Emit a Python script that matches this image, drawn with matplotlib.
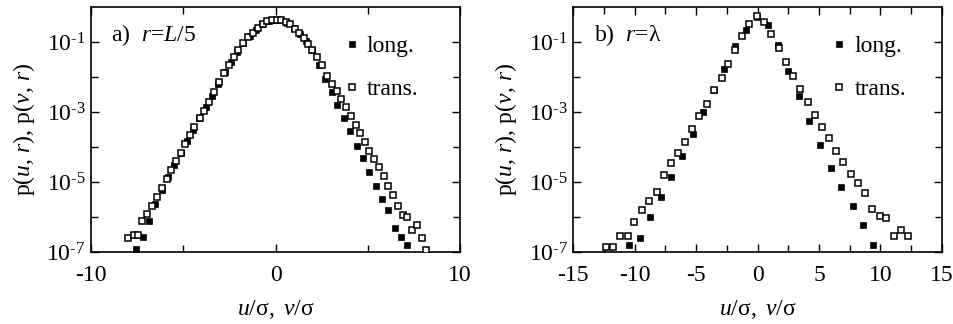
import numpy as np
import matplotlib.pyplot as plt
from matplotlib.ticker import FixedLocator, MultipleLocator, FuncFormatter

plt.rcParams["font.family"] = ["Liberation Serif", "DejaVu Serif"]
plt.rcParams["mathtext.fontset"] = "custom"
plt.rcParams["mathtext.rm"] = "Liberation Serif"
plt.rcParams["mathtext.it"] = "Liberation Serif:italic"
plt.rcParams["axes.unicode_minus"] = False

# a) r = L/5 : longitudinal (u) and transverse (v) increments, log10 of pdf
x_long_a = [-7.56, -7.18, -6.86, -6.53, -6.17, -5.83, -5.49, -5.14, -4.80, -4.46,
            -4.12, -3.78, -3.44, -3.10, -2.76, -2.42, -2.08, -1.74, -1.40, -1.06,
            -0.72, -0.38, -0.04, 0.30, 0.64, 0.98, 1.32, 1.66, 2.00, 2.34,
            2.68, 3.04, 3.35, 3.73, 4.04, 4.40, 4.76, 5.09, 5.45, 5.75,
            6.12, 6.48, 6.79, 7.15]
logp_long_a = [-6.91, -6.56, -6.10, -5.62, -5.24, -4.86, -4.50, -4.17, -3.83, -3.50,
               -3.17, -2.86, -2.54, -2.20, -1.86, -1.56, -1.28, -1.03, -0.83, -0.66,
               -0.50, -0.40, -0.36, -0.38, -0.45, -0.59, -0.77, -0.98, -1.22, -1.65,
               -2.06, -2.44, -2.79, -3.17, -3.55, -3.96, -4.31, -4.71, -5.10, -5.48,
               -5.81, -6.31, -6.57, -6.79]

x_trans_a = [-7.98, -7.67, -7.43, -7.22, -6.95, -6.68, -6.40, -6.13, -5.90, -5.66,
             -5.41, -5.14, -4.90, -4.61, -4.40, -4.09, -3.86, -3.60, -3.33, -3.07,
             -2.80, -2.54, -2.27, -2.01, -1.75, -1.48, -1.22, -0.96, -0.70, -0.44,
             -0.18, 0.08, 0.32, 0.56, 0.80, 1.04, 1.28, 1.52, 1.76, 2.00,
             2.25, 2.51, 2.77, 3.04, 3.32, 3.53, 3.82, 4.09, 4.35, 4.60,
             4.85, 5.09, 5.34, 5.61, 5.88, 6.12, 6.39, 6.62, 6.89, 7.11,
             7.38, 7.65, 7.92, 8.16]
logp_trans_a = [-6.60, -6.51, -6.51, -6.10, -5.91, -5.68, -5.43, -5.17, -4.91, -4.65,
                -4.41, -4.17, -3.91, -3.67, -3.43, -3.17, -2.96, -2.70, -2.42, -2.15,
                -1.88, -1.66, -1.43, -1.22, -1.03, -0.86, -0.73, -0.61, -0.49, -0.41,
                -0.37, -0.36, -0.38, -0.42, -0.50, -0.62, -0.74, -0.89, -1.05, -1.23,
                -1.43, -1.67, -1.98, -2.19, -2.41, -2.63, -2.86, -3.12, -3.36, -3.60,
                -3.87, -4.10, -4.34, -4.57, -4.84, -5.10, -5.36, -5.68, -5.93, -6.00,
                -6.36, -6.22, -6.60, -6.93]

# b) r = lambda
x_long_b = [-10.44, -9.54, -8.73, -7.83, -7.02, -6.15, -5.25, -4.41, -3.54, -2.70,
            -1.83, -0.94, -0.04, 0.88, 1.70, 2.51, 3.41, 4.22, 5.09, 5.99,
            6.83, 7.73, 8.62, 9.43]
logp_long_b = [-6.81, -6.60, -6.00, -5.43, -4.87, -4.27, -3.63, -3.00, -2.38, -1.76,
               -1.12, -0.65, -0.30, -0.52, -1.08, -1.84, -2.55, -3.27, -3.93, -4.60,
               -5.15, -5.68, -6.24, -6.81]

x_trans_b = [-12.34, -11.74, -11.20, -10.57, -10.03, -9.41, -8.81, -8.21, -7.64, -7.07,
             -6.47, -5.90, -5.31, -4.74, -4.14, -3.52, -2.92, -2.40, -1.81, -1.24,
             -0.66, -0.07, 0.56, 1.13, 1.72, 2.29, 2.86, 3.46, 4.08, 4.66,
             5.25, 5.85, 6.39, 6.99, 7.59, 8.16, 8.76, 9.33, 9.93, 10.47,
             11.09, 11.66, 12.26]
logp_trans_b = [-6.85, -6.85, -6.55, -6.55, -6.15, -5.81, -5.55, -5.29, -4.81, -4.46,
                -4.17, -3.85, -3.49, -3.11, -2.78, -2.38, -2.03, -1.63, -1.24, -0.82,
                -0.48, -0.25, -0.43, -0.77, -1.18, -1.57, -1.96, -2.34, -2.71, -3.08,
                -3.44, -3.74, -4.10, -4.42, -4.76, -5.04, -5.31, -5.77, -5.96, -6.03,
                -6.55, -6.37, -6.55]

panel_tags = ["a)  $r$=$L/5$", "b)  $r$=λ"]
series_labels = ["long.", "trans."]

FS = 17


def exp_label(v, pos):
    e = int(round(np.log10(v)))
    return r"$\mathregular{10^{\text{-}%d}}$" % (-e)


fig = plt.figure(figsize=(9.54, 3.24), dpi=100)
ax1 = fig.add_axes([0.0954, 0.2222, 0.3868, 0.7562])
ax2 = fig.add_axes([0.6010, 0.2222, 0.3862, 0.7562])

panels = [
    (ax1, x_long_a, logp_long_a, x_trans_a, logp_trans_a, 0.655),
    (ax2, x_long_b, logp_long_b, x_trans_b, logp_trans_b, 0.67),
]

for i, (ax, xl, pl, xt, pt, legx) in enumerate(panels):
    ax.plot(xl, 10 ** np.array(pl), "s", color="black", ms=4.4, mew=0.5,
            label=series_labels[0], zorder=3)
    ax.plot(xt, 10 ** np.array(pt), "s", mfc="white", mec="black", ms=4.0, mew=1.1,
            label=series_labels[1], zorder=4)
    ax.set_yscale("log")
    ax.set_ylim(1e-7, 1)
    ax.yaxis.set_major_locator(FixedLocator([1e-7, 1e-5, 1e-3, 1e-1]))
    ax.yaxis.set_minor_locator(FixedLocator([1e-6, 1e-4, 1e-2]))
    ax.yaxis.set_major_formatter(FuncFormatter(exp_label))
    ax.yaxis.set_minor_formatter(plt.NullFormatter())

    if i == 0:
        ax.set_xlim(-10, 10)
        ax.xaxis.set_major_locator(MultipleLocator(10))
        ax.xaxis.set_minor_locator(MultipleLocator(5))
    else:
        ax.set_xlim(-15, 15)
        ax.xaxis.set_major_locator(MultipleLocator(5))
        ax.xaxis.set_minor_locator(MultipleLocator(2.5))

    ax.tick_params(which="both", direction="in", top=True, right=True,
                   labelsize=FS, width=1.0)
    ax.tick_params(which="major", length=6)
    ax.tick_params(which="minor", length=5)
    ax.tick_params(axis="x", pad=9)
    ax.tick_params(axis="y", pad=4)
    for s in ax.spines.values():
        s.set_linewidth(1.2)

    ax.set_xlabel(r"$u/\mathrm{σ},\ v/\mathrm{σ}$", fontsize=FS, labelpad=9)
    ax.set_ylabel(r"$\mathrm{p}(u,\,r),\,\mathrm{p}(v,\,r)$", fontsize=FS, labelpad=7)
    ax.text(0.055, 0.86, panel_tags[i], transform=ax.transAxes, fontsize=FS)
    ax.legend(loc="upper left", bbox_to_anchor=(legx, 0.93), frameon=False,
              fontsize=FS, handlelength=0.6, handletextpad=0.35,
              labelspacing=0.9, numpoints=1, borderpad=0, markerscale=1.0)

fig.savefig("out.png", dpi=100)
